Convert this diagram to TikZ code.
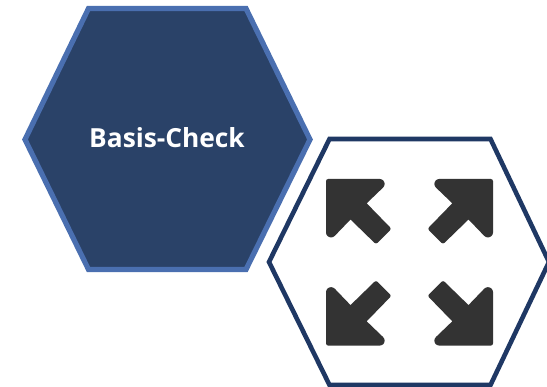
\documentclass[tikz,border=0pt]{standalone}
\usepackage{fontspec}
\setmainfont{Open Sans}
\definecolor{hexfill}{HTML}{2A4268}
\definecolor{hexedge}{HTML}{4A6FB0}
\definecolor{hexdark}{HTML}{1F3864}
\definecolor{icondark}{HTML}{333333}
\tikzset{
  hexone/.style={draw=hexedge,fill=hexfill,line width=5.2pt,line join=miter},
  hextwo/.style={draw=hexdark,fill=white,line width=4.6pt,line join=miter},
  hexlabel/.style={text=white,font=\bfseries\fontsize{26.3}{30}\selectfont,inner sep=0pt},
  cornerarrow/.pic={
    \fill[icondark]
      (-83.5,-70) [rounded corners=2.2pt] -- (-83.5,-83.3) -- (-27.5,-83.3) -- (-24.8,-80.3) -- (-24.8,-76.3) [sharp corners] -- (-42.8,-59)
      [rounded corners=2.2pt] -- (-18,-33.5) -- (-33.5,-18) [sharp corners] -- (-59,-42.8)
      [rounded corners=2.2pt] -- (-76.3,-24.8) -- (-80.3,-24.8) -- (-83.5,-27.5) [sharp corners] -- cycle;
  }
}
\begin{document}
\begin{tikzpicture}[x=1pt,y=-1pt]
\useasboundingbox (0,0) rectangle (547,387);
\draw[hexone] (88.5,8.5) -- (246,8.5) -- (310,139.5) -- (246,269.5) -- (88.5,269.5) -- (25,139.5) -- cycle;
\node[hexlabel] (label) at (167,138) {Basis-Check};
\draw[hextwo] (329.5,139) -- (490.5,139) -- (549,262) -- (490.5,385) -- (329.5,385) -- (269,262) -- cycle;
\coordinate (iconcentre) at (409.5,262.3);
\pic at (iconcentre) {cornerarrow};
\pic[xscale=-1] at (iconcentre) {cornerarrow};
\pic[yscale=-1] at (iconcentre) {cornerarrow};
\pic[xscale=-1,yscale=-1] at (iconcentre) {cornerarrow};
\end{tikzpicture}
\end{document}
